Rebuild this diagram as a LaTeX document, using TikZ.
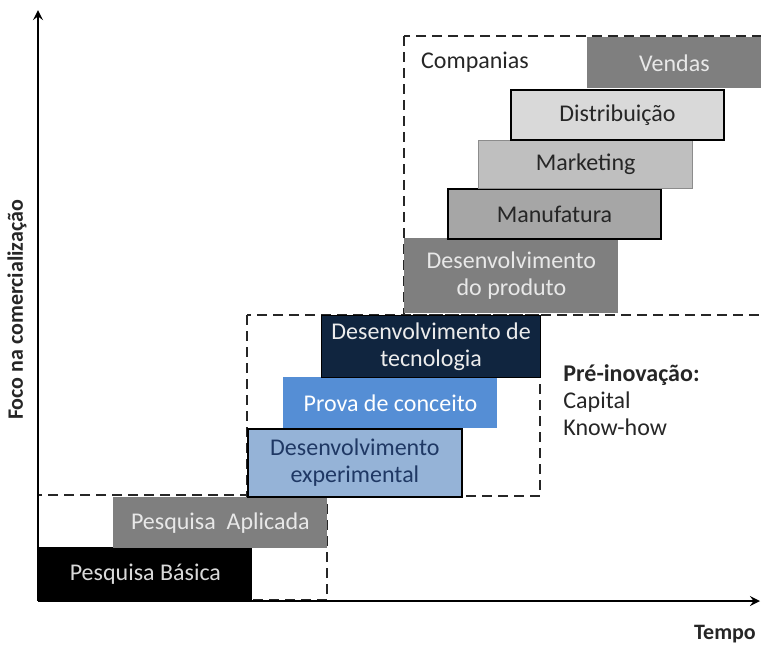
\documentclass[tikz,border=0pt]{standalone}
\usepackage{fontspec}
\setmainfont{Carlito}
\definecolor{cinzaE}{HTML}{7F7F7F}
\definecolor{cinzaM}{HTML}{A6A6A6}
\definecolor{cinzaC}{HTML}{BFBFBF}
\definecolor{cinzaD}{HTML}{D9D9D9}
\definecolor{azulC}{HTML}{95B3D7}
\definecolor{azulM}{HTML}{558ED5}
\definecolor{azulE}{HTML}{10253F}
\definecolor{azulT}{HTML}{1F3864}
\definecolor{texto}{HTML}{262626}

\begin{document}
\begin{tikzpicture}[x=0.5pt,y=-0.5pt,
	every node/.style={font=\fontsize{12}{13.5}\selectfont},
	stage/.style={anchor=north west,inner sep=0pt,align=center,minimum width=107pt,minimum height=25.5pt},
	dashbox/.style={draw=black!85,line width=1.3pt,dash pattern=on 5pt off 3pt},
	axis/.style={line width=1.2pt,-stealth}]
	\useasboundingbox (0,0) rectangle (761,645);
	% areas
	\draw[dashbox] (38,495) rectangle (327,600);
	\draw[dashbox] (247,315) rectangle (540,496);
	\draw[dashbox] (404,36) rectangle (800,315);
	% etapas
	\node[stage,fill=black,text=cinzaD,minimum height=26.5pt] (basica) at (38,547) {Pesquisa Básica};
	\node[stage,fill=cinzaE,text=cinzaD!60!white] (aplicada) at (113,497) {Pesquisa~ Aplicada};
	\node[stage,fill=azulC,draw=black,line width=0.9pt,text=azulT,minimum height=34pt] (experimental) at (247,428) {Desenvolvimento\\experimental};
	\node[stage,fill=azulM,text=white] (prova) at (283,377) {Prova de conceito};
	\node[stage,fill=azulE,draw=black,line width=0.6pt,text=cinzaD!50!white,minimum width=109.5pt,minimum height=31pt] (tecnologia) at (321,315) {Desenvolvimento de\\tecnologia};
	\node[stage,fill=cinzaE,text=cinzaD!60!white,minimum height=37.5pt] (produto) at (404,238) {Desenvolvimento\\do produto};
	\node[stage,fill=cinzaM,draw=black,line width=1pt,text=texto,minimum width=106.5pt,minimum height=25pt] (manufatura) at (447,188) {Manufatura};
	\node[stage,fill=cinzaC,draw=black!45,line width=0.6pt,text=texto,minimum height=24pt] (marketing) at (478,140) {Marketing};
	\node[stage,fill=cinzaD,draw=black,line width=1pt,text=texto,minimum width=106.5pt,minimum height=25pt] (distribuicao) at (510,89) {Distribuição};
	\node[stage,fill=cinzaE,text=cinzaD!60!white,minimum width=87pt] (vendas) at (587,37) {Vendas};
	% textos
	\node[text=texto] (companias) at (475,62) {Companias};
	\node[anchor=north west,align=left,inner sep=0pt,text=texto] (preinov) at (563,364) {\textbf{Pré-inovação:}\\Capital\\Know-how};
	% eixos
	\coordinate (origem) at (38,601);
	\coordinate (topo) at (38,10);
	\coordinate (fim) at (760,601);
	\draw[axis] (origem) -- (topo);
	\draw[axis] (origem) -- (fim);
	\node[rotate=90,font=\fontsize{11}{13}\selectfont\bfseries,text=texto] (foco) at (17,310) {Foco na comercialização};
	\node[font=\fontsize{11}{13}\selectfont\bfseries,text=texto] (tempo) at (725,634) {Tempo};
\end{tikzpicture}
\end{document}
